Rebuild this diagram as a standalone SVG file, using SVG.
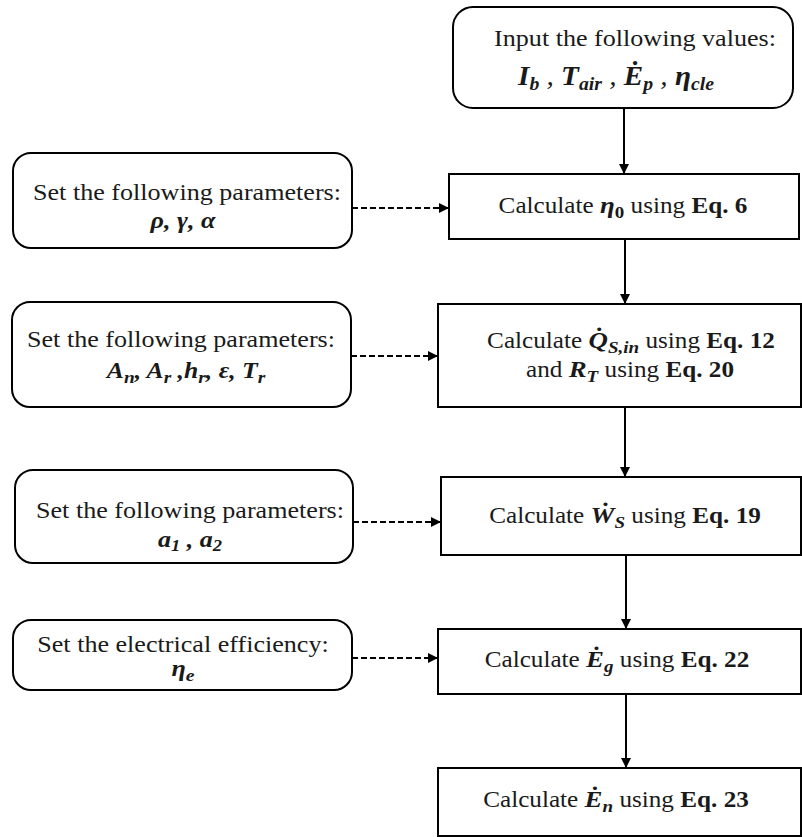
<svg xmlns="http://www.w3.org/2000/svg" width="802" height="837" viewBox="0 0 802 837">
<style>
.box{fill:#fff;stroke:#000;stroke-width:2}
.t{font-family:"Liberation Serif","Times New Roman",serif;font-size:22.5px;fill:#1a1a1a;text-anchor:middle}
.m{font-weight:bold;font-style:italic}
.b{font-weight:bold}
.s{font-size:16px}
.big{font-size:24px}
.bs{font-size:17px}
.c{fill:none;stroke:#000;stroke-width:2}
.d{stroke-dasharray:6 3}
</style>
<defs>
<marker id="ah" viewBox="0 0 10 10" refX="10" refY="5" markerWidth="10" markerHeight="10" markerUnits="userSpaceOnUse" orient="auto">
<path d="M0,0 L10,5 L0,10 Z" fill="#000"/>
</marker>
</defs>
<g id="connectors">
<line class="c" x1="624" y1="108" x2="624" y2="174" marker-end="url(#ah)"/>
<line class="c" x1="625" y1="239" x2="625" y2="304" marker-end="url(#ah)"/>
<line class="c" x1="625" y1="407" x2="625" y2="477" marker-end="url(#ah)"/>
<line class="c" x1="626" y1="555" x2="626" y2="629" marker-end="url(#ah)"/>
<line class="c" x1="626" y1="694" x2="626" y2="768" marker-end="url(#ah)"/>
<line class="c d" x1="352" y1="208" x2="449" y2="208" marker-end="url(#ah)"/>
<line class="c d" x1="351" y1="356" x2="438" y2="356" marker-end="url(#ah)"/>
<line class="c d" x1="353" y1="522" x2="441" y2="522" marker-end="url(#ah)"/>
<line class="c d" x1="352" y1="658" x2="438" y2="658" marker-end="url(#ah)"/>
</g>
<g id="input">
<rect class="box" x="453" y="7" width="340" height="101" rx="20"/>
<text class="t" transform="translate(635 46) scale(1.16 1)">Input the following values:</text>
<text class="t m" style="font-size:28px" transform="translate(616 85) scale(1.04 1)">I<tspan style="font-size:19px" dy="5">b</tspan><tspan dy="-5" font-weight="normal"> , </tspan>T<tspan style="font-size:19px" dy="5">air</tspan><tspan dy="-5" font-weight="normal"> , </tspan>Ė<tspan style="font-size:19px" dy="5">p</tspan><tspan dy="-5" font-weight="normal"> , </tspan>η<tspan style="font-size:19px" dy="5">cle</tspan></text>
</g>
<g id="param1">
<rect class="box" x="13" y="153" width="339" height="95" rx="18"/>
<text class="t" transform="translate(187 200) scale(1.16 1)">Set the following parameters:</text>
<text class="t m" transform="translate(183 228) scale(1.16 1)">ρ, γ, α</text>
</g>
<g id="calc1">
<rect class="box" x="449" y="174" width="350" height="65"/>
<text class="t" transform="translate(623 213) scale(1.12 1)">Calculate <tspan class="m big">η</tspan><tspan class="b bs" dy="5">0</tspan><tspan dy="-5"> using </tspan><tspan class="b">Eq. 6</tspan></text>
</g>
<g id="param2">
<rect class="box" x="12" y="302" width="339" height="105" rx="18"/>
<text class="t" transform="translate(181 347) scale(1.16 1)">Set the following parameters:</text>
<text class="t m" transform="translate(186 378) scale(1.14 1)">A<tspan class="bs" dy="5">n</tspan><tspan dy="-5">, A</tspan><tspan class="bs" dy="5">r</tspan><tspan dy="-5"> ,h</tspan><tspan class="bs" dy="5">r</tspan><tspan dy="-5">, ε, T</tspan><tspan class="bs" dy="5">r</tspan></text>
</g>
<g id="calc2">
<rect class="box" x="438" y="304" width="363" height="103"/>
<text class="t" transform="translate(631 348) scale(1.12 1)">Calculate <tspan class="m big">Q̇</tspan><tspan class="m bs" dy="5">S,in</tspan><tspan dy="-5"> using </tspan><tspan class="b">Eq. 12</tspan></text>
<text class="t" transform="translate(630 377) scale(1.12 1)">and <tspan class="m big">R</tspan><tspan class="m bs" dy="5">T</tspan><tspan dy="-5"> using </tspan><tspan class="b">Eq. 20</tspan></text>
</g>
<g id="param3">
<rect class="box" x="15" y="470" width="338" height="93" rx="18"/>
<text class="t" transform="translate(190 518) scale(1.16 1)">Set the following parameters:</text>
<text class="t m" transform="translate(190 547) scale(1.16 1)">a<tspan class="s" dy="4">1</tspan><tspan dy="-4"> , a</tspan><tspan class="s" dy="4">2</tspan></text>
</g>
<g id="calc3">
<rect class="box" x="441" y="477" width="360" height="78"/>
<text class="t" transform="translate(625 523) scale(1.12 1)">Calculate <tspan class="m big">Ẇ</tspan><tspan class="m bs" dy="5">S</tspan><tspan dy="-5"> using </tspan><tspan class="b">Eq. 19</tspan></text>
</g>
<g id="param4">
<rect class="box" x="13" y="620" width="339" height="70" rx="18"/>
<text class="t" transform="translate(183 652) scale(1.16 1)">Set the electrical efficiency:</text>
<text class="t m" transform="translate(183 676) scale(1.16 1)">η<tspan class="bs" dy="5">e</tspan></text>
</g>
<g id="calc4">
<rect class="box" x="438" y="629" width="363" height="65"/>
<text class="t" transform="translate(617 667) scale(1.12 1)">Calculate <tspan class="m big">Ė</tspan><tspan class="m bs" dy="5">g</tspan><tspan dy="-5"> using </tspan><tspan class="b">Eq. 22</tspan></text>
</g>
<g id="calc5">
<rect class="box" x="438" y="768" width="363" height="68"/>
<text class="t" transform="translate(616 807) scale(1.12 1)">Calculate <tspan class="m big">Ė</tspan><tspan class="m bs" dy="5">n</tspan><tspan dy="-5"> using </tspan><tspan class="b">Eq. 23</tspan></text>
</g>
</svg>
